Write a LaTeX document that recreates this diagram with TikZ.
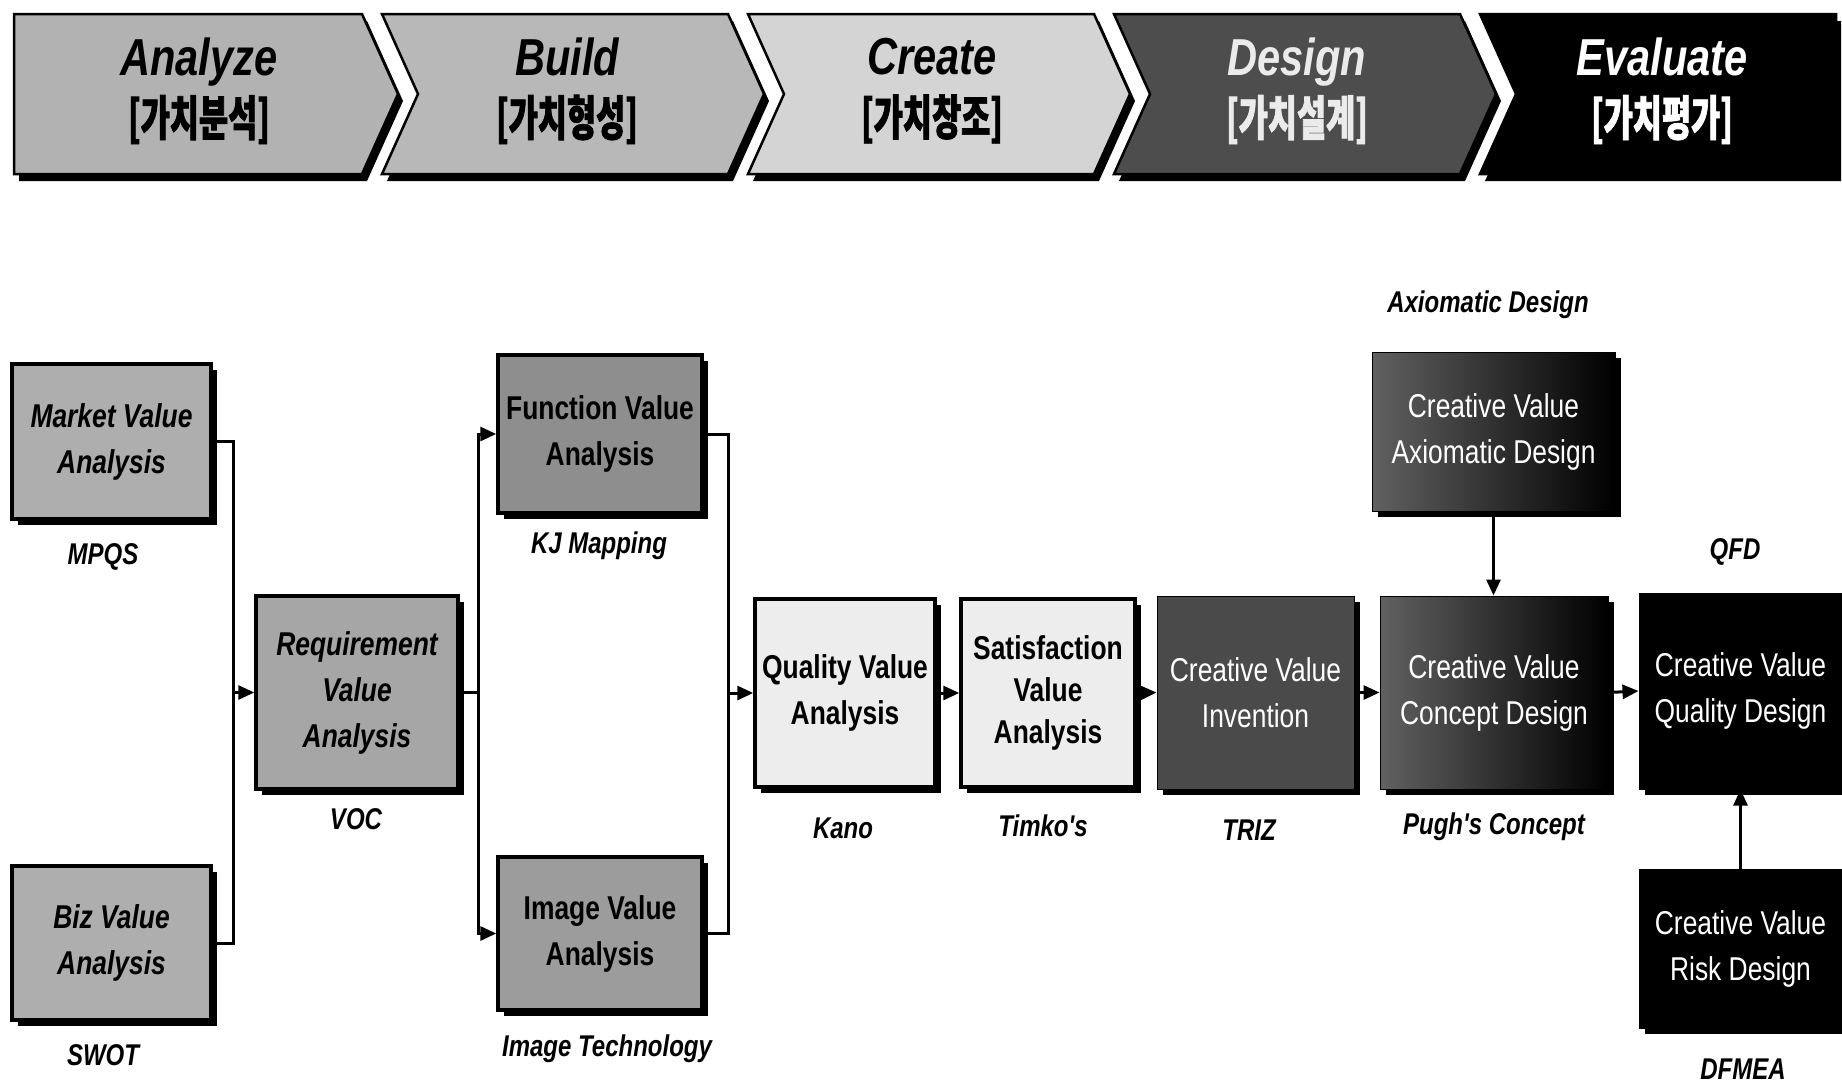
\documentclass[tikz,border=0pt]{standalone}
\usepackage{fontspec}
\setmainfont{Liberation Sans}
\newfontfamily\cond[FakeStretch=0.8]{Liberation Sans}
\newfontfamily\kr[FakeStretch=0.66,FakeBold=1.5]{Noto Sans CJK KR}
\usetikzlibrary{shadows,arrows.meta}
\definecolor{chA}{HTML}{B2B2B2}
\definecolor{chB}{HTML}{B8B8B8}
\definecolor{chC}{HTML}{D4D4D4}
\definecolor{chD}{HTML}{4D4D4D}
\definecolor{gMk}{HTML}{AEAEAE}
\definecolor{gRq}{HTML}{A6A6A6}
\definecolor{gFn}{HTML}{8E8E8E}
\definecolor{gIm}{HTML}{9C9C9C}
\definecolor{gQl}{HTML}{EDEDED}
\definecolor{gIv}{HTML}{4A4A4A}
\begin{document}
\begin{tikzpicture}[x=1pt,y=-1pt,
  shd/.style={drop shadow={shadow xshift=6pt,shadow yshift=-6pt,fill=black,opacity=1}},
  lbox/.style={draw=black,line width=3.5pt,inner sep=0pt,align=center,shd,
     font=\cond\bfseries\fontsize{33}{46}\selectfont},
  dbox/.style={draw=black,line width=1pt,inner sep=0pt,align=center,shd,text=white,
     font=\cond\fontsize{33}{46}\selectfont},
  lab/.style={inner sep=0pt,font=\cond\bfseries\itshape\fontsize{30}{36}\selectfont},
  chevtxt/.style={inner sep=0pt,align=center,font=\cond\bfseries\itshape\fontsize{52}{60}\selectfont},
  conn/.style={line width=3pt},
  arr/.style={line width=3pt,-{Triangle[length=16pt,width=14pt]}}]
\fill[white] (0,0) rectangle (1842,1087);
\useasboundingbox (0,0) rectangle (1842,1087);

% chevrons: shadows
\begin{scope}[shift={(5,7)}]
\fill[black] (14,14) -- (362,14) -- (398,94) -- (362,174) -- (14,174) -- cycle;
\fill[black] (382,14) -- (728,14) -- (764,94) -- (728,174) -- (382,174) -- (418,94) -- cycle;
\fill[black] (748,14) -- (1094,14) -- (1130,94) -- (1094,174) -- (748,174) -- (784,94) -- cycle;
\fill[black] (1114,14) -- (1460,14) -- (1496,94) -- (1460,174) -- (1114,174) -- (1150,94) -- cycle;
\fill[black] (1480,14) -- (1836,14) -- (1836,174) -- (1480,174) -- (1516,94) -- cycle;
\end{scope}
\filldraw[fill=chA,draw=black,line width=2.5pt] (14,14) -- (362,14) -- (398,94) -- (362,174) -- (14,174) -- cycle;
\filldraw[fill=chB,draw=black,line width=2.5pt] (382,14) -- (728,14) -- (764,94) -- (728,174) -- (382,174) -- (418,94) -- cycle;
\filldraw[fill=chC,draw=black,line width=2.5pt] (748,14) -- (1094,14) -- (1130,94) -- (1094,174) -- (748,174) -- (784,94) -- cycle;
\filldraw[fill=chD,draw=black,line width=2.5pt] (1114,14) -- (1460,14) -- (1496,94) -- (1460,174) -- (1114,174) -- (1150,94) -- cycle;
\filldraw[fill=black,draw=black,line width=2.5pt] (1480,14) -- (1836,14) -- (1836,174) -- (1480,174) -- (1516,94) -- cycle;

\node[chevtxt] (t1) at (199,91) {Analyze\\\kr\fontsize{48}{60}\selectfont[가치분석]};
\node[chevtxt] (t2) at (567,91) {Build\\\kr\fontsize{48}{60}\selectfont[가치형성]};
\node[chevtxt] (t3) at (932,91) {Create\\\kr\fontsize{48}{60}\selectfont[가치창조]};
\node[chevtxt,text=black!8] (t4) at (1297,91) {Design\\\kr\fontsize{48}{60}\selectfont[가치설계]};
\node[chevtxt,text=white] (t5) at (1662,91) {Evaluate\\\kr\fontsize{48}{60}\selectfont[가치평가]};

% boxes
\node[lbox,fill=gMk,minimum width=199pt,minimum height=155pt] (mva) at (111.5,441.5) {\itshape Market Value\\\itshape Analysis};
\node[lbox,fill=gMk,minimum width=199pt,minimum height=154pt] (bva) at (111.5,943) {\itshape Biz Value\\\itshape Analysis};
\node[lbox,fill=gRq,minimum width=202pt,minimum height=193pt] (rva) at (357,692.5) {\itshape Requirement\\\itshape Value\\\itshape Analysis};
\node[lbox,fill=gFn,minimum width=204pt,minimum height=158pt] (fva) at (600,434) {Function Value\\Analysis};
\node[lbox,fill=gIm,minimum width=204pt,minimum height=153pt] (iva) at (600,933.5) {Image Value\\Analysis};
\node[lbox,fill=gQl,minimum width=180pt,minimum height=188pt] (qva) at (845,693) {Quality Value\\Analysis};
\node[lbox,fill=gQl,minimum width=174pt,minimum height=188pt,font=\cond\bfseries\fontsize{33}{42}\selectfont] (sva) at (1048,693) {Satisfaction\\Value\\Analysis};
\node[dbox,fill=gIv,minimum width=197pt,minimum height=193pt] (inv) at (1255.5,692.5) {Creative Value\\Invention};
\node[dbox,left color=black!62,right color=black,minimum width=228pt,minimum height=193pt] (cd) at (1494,692.5) {Creative Value\\Concept Design};
\node[dbox,left color=black!62,right color=black,minimum width=243pt,minimum height=159pt] (ad) at (1493.5,431.5) {Creative Value\\Axiomatic Design};
\node[dbox,fill=black,minimum width=203pt,minimum height=196pt] (qd) at (1740.5,691) {Creative Value\\Quality Design};
\node[dbox,fill=black,minimum width=203pt,minimum height=159pt] (rd) at (1740.5,948.5) {Creative Value\\Risk Design};

% labels
\node[lab] (lmpqs) at (103,557) {MPQS};
\node[lab] (lswot) at (103,1055) {SWOT};
\node[lab] (lvoc) at (356,819) {VOC};
\node[lab] (lkj) at (599,546) {KJ Mapping};
\node[lab] (limg) at (607,1049) {Image Technology};
\node[lab] (lkano) at (843,828) {Kano};
\node[lab] (ltim) at (1043,826) {Timko's};
\node[lab] (ltriz) at (1249,830) {TRIZ};
\node[lab] (lpugh) at (1494,827) {Pugh's Concept};
\node[lab] (lax) at (1488,305) {Axiomatic Design};
\node[lab] (lqfd) at (1735,552) {QFD};
\node[lab] (ldf) at (1743,1069) {DFMEA};

% connectors
\coordinate (j1) at (233,692.5);
\coordinate (j2) at (478,692.5);
\coordinate (j3) at (728,693);
\draw[conn] (mva.east) -| (j1) |- (bva.east);
\draw[arr] (j1) -- (rva.west);
\draw[conn] (rva.east) -- (j2);
\draw[arr] (j2) |- (fva.west);
\draw[arr] (j2) |- (iva.west);
\draw[conn] (fva.east) -| (j3) |- (iva.east);
\draw[arr] (j3) -- (qva.west);
\draw[arr] (qva.east) -- (sva.west);
\draw[arr] (sva.east) -- (inv.west);
\draw[arr] (inv.east) -- (cd.west);
\draw[arr] (cd.east) -- (qd.west);
\draw[arr] (ad.south) -- (ad.south |- cd.north);
\draw[arr] (rd.north) -- (rd.north |- qd.south);
\end{tikzpicture}
\end{document}
